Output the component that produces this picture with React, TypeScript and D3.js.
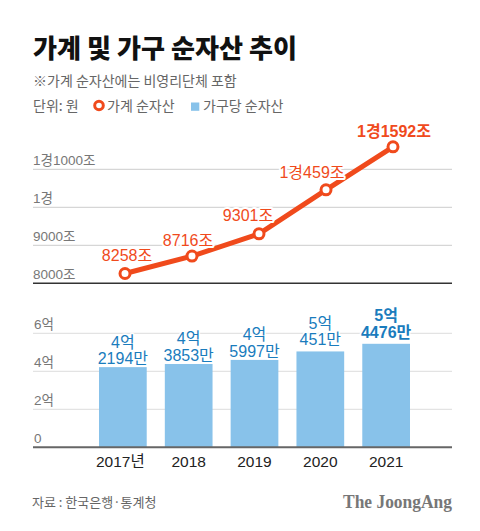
import React from "react";
import * as d3 from "d3";

const years = ["2017", "2018", "2019", "2020", "2021"];
const yearLabels = ["2017년", "2018", "2019", "2020", "2021"];
// 가계 순자산 (조원)
const householdNetWorth = [8258, 8716, 9301, 10459, 11592];
const householdLabels = ["8258조", "8716조", "9301조", "1경459조", "1경1592조"];
// 가구당 순자산 (억원)
const perHousehold = [4.2194, 4.3853, 4.5997, 5.0451, 5.4476];
const perHouseholdLabels1 = ["4억", "4억", "4억", "5억", "5억"];
const perHouseholdLabels2 = ["2194만", "3853만", "5997만", "451만", "4476만"];
const lineTicks = [8000, 9000, 10000, 11000];
const lineTickLabels = ["8000조", "9000조", "1경", "1경1000조"];
const barTicks = [0, 2, 4, 6];
const barTickLabels = ["0", "2억", "4억", "6억"];

// layout-only label offsets
const lineLabelDx = [2, -4, -11, -14, 1];
const lineLabelDy = [-12, -10, -12.5, -11.5, -9.5];
const barLabelDy = [-3, -3, -3, -6, -6];

const W = 480;
const H = 531;
const KR = "'Liberation Sans', 'Noto Sans CJK KR', sans-serif";
const KRT = "'Noto Sans CJK KR', sans-serif";
const ORANGE = "#f04a1c";
const BLUE_BAR = "#88c2ea";
const BLUE_TEXT = "#1a7cbd";
const GRAY = "#777";

export default function App() {
  const left = 33;
  const right = 452;

  const xLine = d3.scalePoint<string>().domain(years).range([125, 393]);
  const yLine = d3.scaleLinear().domain([8000, 11000]).range([283.3, 169.3]);

  const xBar = d3
    .scaleBand<string>()
    .domain(years)
    .range([99, 410])
    .paddingInner(0.275)
    .paddingOuter(0);
  const yBar = d3.scaleLinear().domain([0, 6]).range([447.3, 333.3]);

  const lineGen = d3
    .line<number>()
    .x((_, i) => xLine(years[i])!)
    .y((d) => yLine(d));

  return (
    <svg
      width={W}
      height={H}
      style={{ position: "absolute", left: 0, top: 0, background: "#fff" }}
      fontFamily={KR}
    >
      <rect width={W} height={H} fill="#fff" />
      {/* Title */}
      <text x={33} y={58} fontSize={26} fontWeight={900} fill="#111" fontFamily={KRT} textLength={264} lengthAdjust="spacingAndGlyphs">
        가계 및 가구 순자산 추이
      </text>
      <text x={33} y={86} fontSize={14} fill="#666" fontFamily={KRT}>
        ※가계 순자산에는 비영리단체 포함
      </text>
      {/* Legend */}
      <text x={33} y={111} fontSize={14} fill="#666" fontFamily={KRT}>
        단위: 원
      </text>
      <circle cx={99} cy={105.5} r={4.3} fill="#fff" stroke={ORANGE} strokeWidth={3} />
      <text x={107} y={111} fontSize={14} fill="#666" fontFamily={KRT}>
        가계 순자산
      </text>
      <rect x={191} y={102.5} width={8.3} height={8.3} fill={BLUE_BAR} />
      <text x={203} y={111} fontSize={14} fill="#666" fontFamily={KRT}>
        가구당 순자산
      </text>

      {/* Line chart grid */}
      {lineTicks.map((t, i) => (
        <g key={"lt" + t}>
          <line
            x1={left}
            x2={right}
            y1={yLine(t)}
            y2={yLine(t)}
            stroke={i === 0 ? "#333" : "#ccc"}
            strokeWidth={i === 0 ? 1.5 : 1}
          />
          <text x={left} y={yLine(t) - 4} fontSize={13.5} fill={GRAY}>
            {lineTickLabels[i]}
          </text>
        </g>
      ))}
      <path d={lineGen(householdNetWorth)!} fill="none" stroke={ORANGE} strokeWidth={5} strokeLinejoin="round" />
      {householdNetWorth.map((v, i) => (
        <circle key={"c" + i} cx={xLine(years[i])} cy={yLine(v)} r={5} fill="#fff" stroke={ORANGE} strokeWidth={3} />
      ))}
      {householdNetWorth.map((v, i) => (
        <text
          key={"ll" + i}
          x={xLine(years[i])! + lineLabelDx[i]}
          y={yLine(v) + lineLabelDy[i]}
          textAnchor="middle"
          fontSize={16}
          fontWeight={i === householdNetWorth.length - 1 ? 700 : 400}
          fill={ORANGE}
          stroke="#fff"
          strokeWidth={4}
          paintOrder="stroke"
          strokeLinejoin="round"
        >
          {householdLabels[i]}
        </text>
      ))}

      {/* Bar chart grid */}
      {barTicks.map((t, i) =>
        i === 0 ? null : (
          <line key={"bg" + t} x1={left} x2={right} y1={yBar(t)} y2={yBar(t)} stroke="#ddd" strokeWidth={1} />
        )
      )}
      {perHousehold.map((v, i) => (
        <rect
          key={"b" + i}
          x={xBar(years[i])}
          y={yBar(v)}
          width={xBar.bandwidth()}
          height={yBar(0) - yBar(v)}
          fill={BLUE_BAR}
        />
      ))}
      <line x1={left} x2={right} y1={yBar(0)} y2={yBar(0)} stroke="#666" strokeWidth={2} />
      {barTicks.map((t, i) => (
        <text key={"bt" + t} x={left + 1} y={yBar(t) - 4} fontSize={13.5} fill={GRAY}>
          {barTickLabels[i]}
        </text>
      ))}
      {perHousehold.map((v, i) => {
        const cx = xBar(years[i])! + xBar.bandwidth() / 2;
        const bold = i === perHousehold.length - 1 ? 700 : 400;
        const base = yBar(v) + barLabelDy[i];
        return (
          <text
            key={"bl" + i}
            fontSize={16}
            fill={BLUE_TEXT}
            fontWeight={bold}
            textAnchor="middle"
            stroke="#fff"
            strokeWidth={3}
            paintOrder="stroke"
            strokeLinejoin="round"
          >
            <tspan x={cx} y={base - 16.5}>
              {perHouseholdLabels1[i]}
            </tspan>
            <tspan x={cx} y={base}>
              {perHouseholdLabels2[i]}
            </tspan>
          </text>
        );
      })}
      {yearLabels.map((lab, i) => (
        <text
          key={"yl" + i}
          x={xBar(years[i])! + xBar.bandwidth() / 2 - (i === 0 ? 2.5 : 0)}
          y={467}
          textAnchor="middle"
          fontSize={15.5}
          fill="#222"
        >
          {lab}
        </text>
      ))}

      {/* Footer */}
      <text x={32} y={507} fontSize={13} fill="#666" fontFamily={KRT}>
        자료 : 한국은행·통계청
      </text>
      <text
        x={452}
        y={508}
        textAnchor="end"
        fontSize={18}
        fontWeight={700}
        fill="#777"
        fontFamily="'Liberation Serif', 'DejaVu Serif', serif"
        textLength={109}
        lengthAdjust="spacingAndGlyphs"
      >
        The JoongAng
      </text>
    </svg>
  );
}
